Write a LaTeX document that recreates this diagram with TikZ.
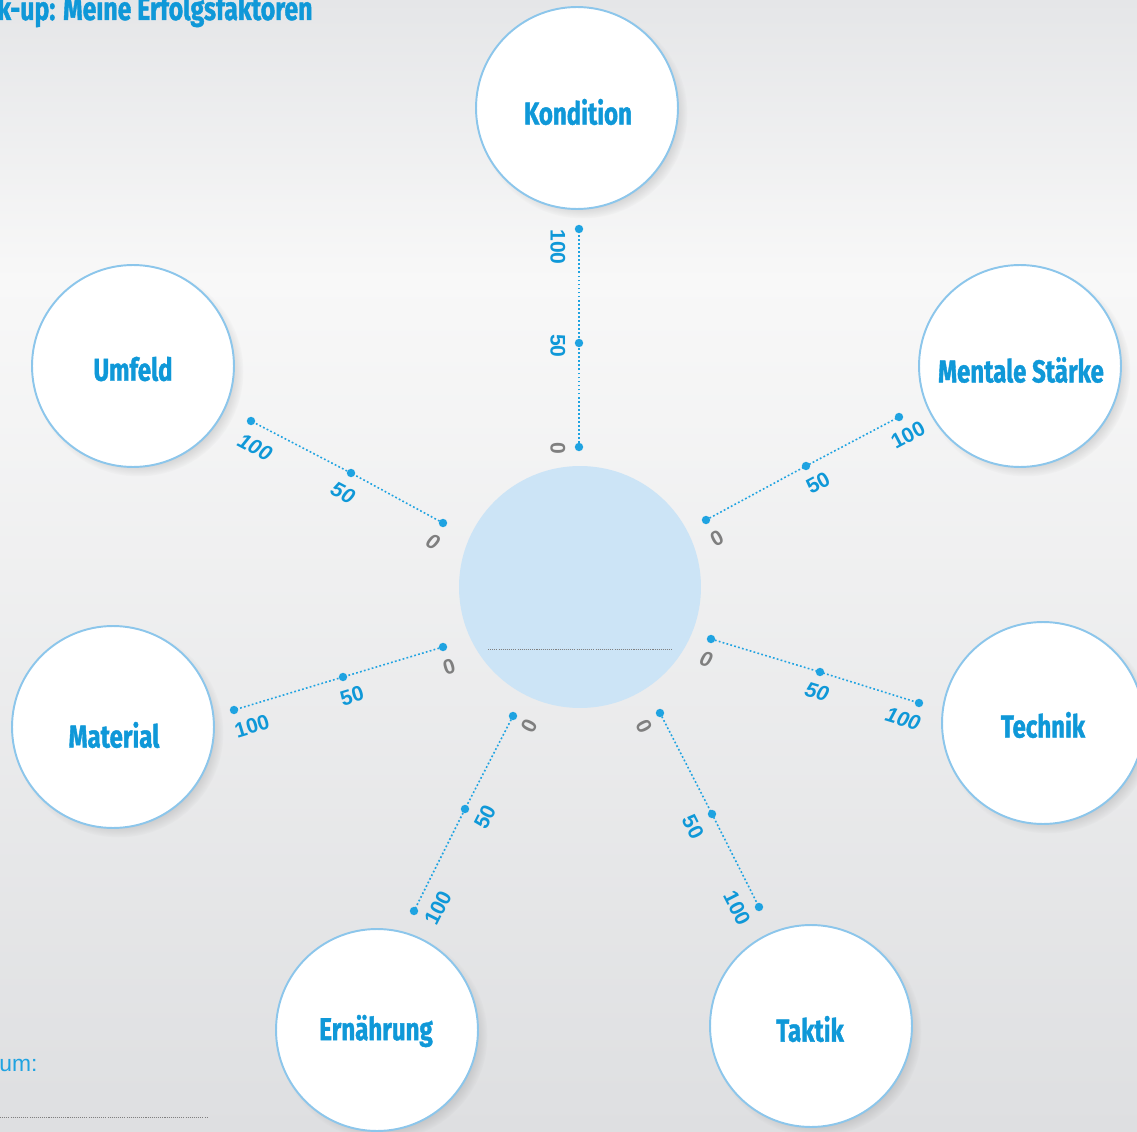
\documentclass[tikz,border=0pt]{standalone}
\usepackage{fontspec}
\usepackage{xcolor}
\usetikzlibrary{shadows}

\setmainfont{Liberation Sans}
\newfontfamily\kreisfont[FakeStretch=0.76, BoldFeatures={FakeBold=1.2}]{Fira Sans}

\definecolor{schrift}{HTML}{0F98D8}
\definecolor{punktfarbe}{HTML}{1FA3E1}
\definecolor{randfarbe}{HTML}{8CC6EB}
\definecolor{mittefarbe}{HTML}{CCE4F6}
\definecolor{nullfarbe}{HTML}{7F7F7F}
\definecolor{hgoben}{HTML}{E5E6E8}
\definecolor{hgmitte}{HTML}{F8F8F8}
\definecolor{hgunten}{HTML}{DEDFE1}

\tikzset{
	faktor/.style={circle, draw=randfarbe, line width=1.1pt, fill=white,
		minimum size=4.04cm, inner sep=0pt,
		circular drop shadow={shadow xshift=3pt, shadow yshift=-3pt, opacity=0.35, shadow scale=1.04}},
	faktortext/.style={inner sep=1pt, text=schrift,
		font=\kreisfont\bfseries\fontsize{18}{20}\selectfont},
	skala/.style={punktfarbe, line width=0.9pt, dash pattern=on 1pt off 1.3pt},
	punkt/.style={fill=punktfarbe},
	zahl/.style={inner sep=0pt, text=schrift, font=\bfseries\fontsize{12}{12}\selectfont},
	zahlit/.style={zahl, font=\bfseries\itshape\fontsize{12}{12}\selectfont},
}

\begin{document}
\begin{tikzpicture}[x=0.02cm, y=-0.02cm]
	\useasboundingbox (0,0) rectangle (1137,1132);
	% Hintergrund
	\shade[top color=hgoben, bottom color=hgmitte] (0,0) rectangle (1137,280);
	\shade[top color=hgmitte, bottom color=hgunten] (0,280) rectangle (1137,1132);

	\node[anchor=base west, inner sep=0pt, text=schrift,
		font=\kreisfont\bfseries\fontsize{18.6}{20}\selectfont] (titel) at (-3,20) {k-up: Meine Erfolgsfaktoren};

	% Mitte
	\node[circle, fill=mittefarbe, minimum size=4.84cm, inner sep=0pt] (mitte) at (580,587) {};
	\coordinate (ml) at (488,649);
	\coordinate (mr) at (673,649);
	\draw[nullfarbe, line width=0.5pt, dash pattern=on 0.6pt off 0.6pt] (ml) -- (mr);

	% Faktoren
	\foreach \n/\x/\y/\tx/\ty/\t in {
		kondition/577/108/578/112/Kondition,
		mental/1020/366/1021/370/Mentale Stärke,
		technik/1043/723/1043/725/Technik,
		taktik/811/1026/810/1029/Taktik,
		ernaehrung/377/1030/376/1031/Ernährung,
		material/113/727/114/735/Material,
		umfeld/133/366/133/369/Umfeld}
	{
		\node[faktor] (\n) at (\x,\y) {};
		\node[faktortext] (\n-t) at (\tx,\ty) {\t};
	}

	% Skalen
	\foreach \n/\ax/\ay/\bx/\by/\cx/\cy in {
		kon/579/447/579/343/579/229,
		men/706/520/806/466/899/417,
		tec/711/639/820/672/919/703,
		tak/660/713/712/814/759/907,
		ern/513/716/465/809/414/911,
		mat/443/647/343/677/234/710,
		umf/443/523/351/473/251/421}
	{
		\coordinate (\n0) at (\ax,\ay);
		\coordinate (\n5) at (\bx,\by);
		\coordinate (\n1) at (\cx,\cy);
		\draw[skala] (\n0) -- (\n5) -- (\n1);
		\foreach \p in {0,5,1}
		{
			\fill[punkt] (\n\p) circle (2.4pt);
		}
	}

	% Zahlen
	\foreach \n/\r/\s/\ax/\ay/\bx/\by/\cx/\cy in {
		kon/-90/zahl/558/448/558/346/558/247,
		men/28/zahl/717/538/818/483/908/435,
		tec/-17/zahlit/706/659/817/692/903/719,
		tak/-63/zahl/644/726/693/827/737/908,
		ern/63/zahl/529/726/485/817/438/908,
		mat/17/zahl/449/667/352/696/252/726,
		umf/-28/zahlit/433/542/343/493/255/447}
	{
		\node[\s, text=nullfarbe, rotate=\r] (\n-z0) at (\ax,\ay) {0};
		\node[\s, rotate=\r] (\n-z5) at (\bx,\by) {50};
		\node[\s, rotate=\r] (\n-z1) at (\cx,\cy) {100};
	}

	% Datum
	\node[anchor=base west, inner sep=0pt, text=punktfarbe, font=\fontsize{13}{15}\selectfont] (datum) at (-1,1071) {um:};
	\coordinate (dl) at (0,1117);
	\coordinate (dr) at (207,1117);
	\draw[nullfarbe, line width=0.5pt, dash pattern=on 0.6pt off 0.6pt] (dl) -- (dr);
\end{tikzpicture}
\end{document}
